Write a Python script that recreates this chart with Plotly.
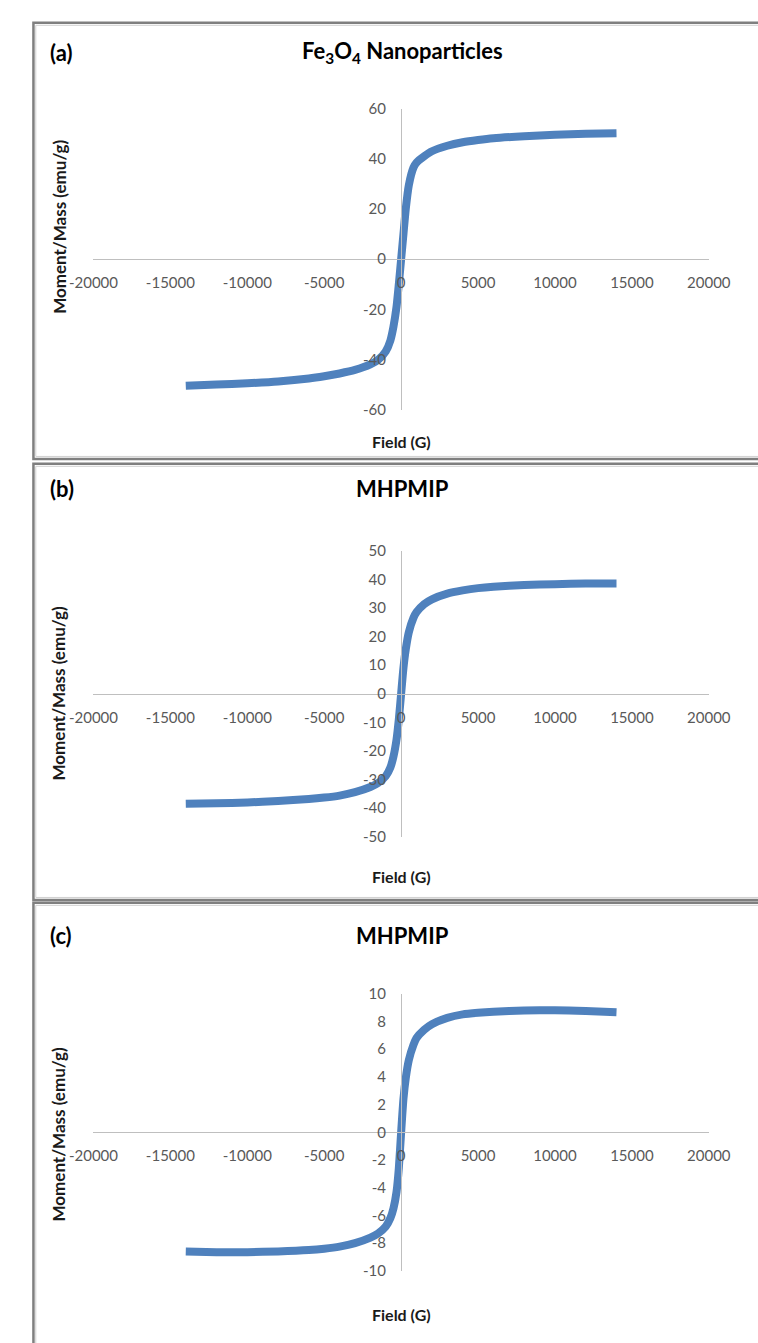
import plotly.graph_objects as go

W, H = 758, 1343

# ---- data ----
field = [-14000, -12000, -10000, -8000, -6000, -5000, -4000, -3000, -2000, -1500,
         -1000, -700, -500, -300, -150, 0, 150, 300, 500, 800, 1000, 1500, 2000,
         3000, 4000, 5000, 6000, 8000, 10000, 12000, 14000]

moment_a = [-50.5, -50.0, -49.5, -48.8, -47.6, -46.7, -45.6, -44.2, -42.0, -40.2,
            -36.8, -32.5, -27.0, -19.0, -10.0, 0.0, 10.0, 20.0, 29.5, 36.5, 38.5,
            41.0, 43.0, 45.2, 46.6, 47.5, 48.2, 49.0, 49.6, 50.0, 50.2]

moment_b = [-38.5, -38.3, -38.0, -37.5, -36.8, -36.3, -35.6, -34.4, -32.6, -31.2,
            -28.8, -25.8, -22.0, -16.0, -9.0, 0.0, 9.0, 15.5, 21.5, 26.5, 28.5,
            31.3, 33.0, 35.0, 36.1, 36.9, 37.4, 38.0, 38.3, 38.5, 38.5]

moment_c = [-8.6, -8.65, -8.65, -8.6, -8.5, -8.4, -8.25, -8.0, -7.6, -7.3,
            -6.8, -6.2, -5.5, -4.3, -2.6, 0.0, 2.4, 3.9, 5.2, 6.3, 6.8,
            7.4, 7.8, 8.25, 8.5, 8.62, 8.7, 8.78, 8.8, 8.75, 8.65]

panel_labels = ["(a)", "(b)", "(c)"]
panel_titles = ["Fe<sub>3</sub>O<sub>4</sub> Nanoparticles", "MHPMIP", "MHPMIP"]
x_ticks = [-20000, -15000, -10000, -5000, 0, 5000, 10000, 15000, 20000]
y_ticks = [[-60, -40, -20, 0, 20, 40, 60],
           [-50, -40, -30, -20, -10, 0, 10, 20, 30, 40, 50],
           [-10, -8, -6, -4, -2, 0, 2, 4, 6, 8, 10]]
x_title = "Field (G)"
y_title = "Moment/Mass (emu/g)"

# ---- layout geometry (pixels) ----
def fx(px):
    return px / W

def fy(py):
    return 1 - py / H

x_dom = [fx(73), fx(729)]
plot_top = [100, 548, 997]
plot_bot = [405, 838, 1278]
title_y = [43, 485, 938]
xtitle_y = [437, 878, 1322]
ytitle_y = [220, 693, 1140]
boxes = [(13, 455), (460, 902), (905, 1360)]

font_fam = "Lato, 'Open Sans', Arial, sans-serif"
line_col = "#4F81BD"
tick_col = "#595959"
axis_col = "#BFBFBF"

fig = go.Figure()
moments = [moment_a, moment_b, moment_c]
annotations = []
shapes = []


def open_box(xl, xr, yt, yb):
    # top, left and bottom edges only (the right edge runs off the page)
    return (f"M {fx(xr)} {fy(yt)} L {fx(xl)} {fy(yt)} "
            f"L {fx(xl)} {fy(yb)} L {fx(xr)} {fy(yb)}")


x_range = [x_ticks[0], x_ticks[-1]]
for i in range(3):
    sfx = "" if i == 0 else str(i + 1)
    fig.add_trace(go.Scatter(
        x=field, y=moments[i], mode="lines",
        line=dict(color=line_col, width=8, shape="spline", smoothing=0.6),
        xaxis="x" + sfx, yaxis="y" + sfx, showlegend=False, hoverinfo="skip"))

    y_dom = [fy(plot_bot[i]), fy(plot_top[i])]
    yr = [y_ticks[i][0], y_ticks[i][-1]]
    zero_pos = y_dom[0] + (0 - yr[0]) / (yr[1] - yr[0]) * (y_dom[1] - y_dom[0])
    xzero_pos = x_dom[0] + (0 - x_range[0]) / (x_range[1] - x_range[0]) * (x_dom[1] - x_dom[0])

    fig.layout["xaxis" + sfx] = dict(
        domain=x_dom, range=x_range,
        tickmode="array", tickvals=x_ticks, ticktext=[str(v) for v in x_ticks],
        anchor="free", position=zero_pos,
        showline=True, linecolor=axis_col, linewidth=1.3,
        showgrid=False, zeroline=False, ticks="", ticklabelstandoff=10,
        tickfont=dict(family=font_fam, size=15, color=tick_col),
        fixedrange=True)
    fig.layout["yaxis" + sfx] = dict(
        domain=y_dom, range=yr,
        tickmode="array", tickvals=y_ticks[i], ticktext=[str(v) for v in y_ticks[i]],
        anchor="free", position=xzero_pos,
        showline=True, linecolor=axis_col, linewidth=1.3,
        showgrid=False, zeroline=False, ticks="", ticklabelstandoff=12,
        tickfont=dict(family=font_fam, size=15, color=tick_col),
        fixedrange=True)

    annotations += [
        dict(text="<b>" + panel_labels[i] + "</b>", x=fx(24), y=fy(title_y[i]),
             xref="paper", yref="paper", xanchor="left", yanchor="middle",
             showarrow=False, font=dict(family=font_fam, size=22, color="#000000")),
        dict(text="<b>" + panel_titles[i] + "</b>", x=fx(402), y=fy(title_y[i]),
             xref="paper", yref="paper", xanchor="center", yanchor="middle",
             showarrow=False, font=dict(family=font_fam, size=22, color="#000000")),
        dict(text="<b>" + x_title + "</b>", x=fx(401), y=fy(xtitle_y[i]),
             xref="paper", yref="paper", xanchor="center", yanchor="middle",
             showarrow=False, font=dict(family=font_fam, size=16, color="#1a1a1a")),
        dict(text="<b>" + y_title + "</b>", x=fx(36), y=fy(ytitle_y[i]),
             xref="paper", yref="paper", xanchor="center", yanchor="middle",
             textangle=-90, showarrow=False,
             font=dict(family=font_fam, size=17, color="#1a1a1a")),
    ]
    b0, b1 = boxes[i]
    shapes.append(dict(type="path", xref="paper", yref="paper",
                       path=open_box(9, 800, b0, b1),
                       line=dict(color="#7F7F7F", width=2.5), layer="below"))
    shapes.append(dict(type="path", xref="paper", yref="paper",
                       path=open_box(11.5, 800, b0 + 2.5, b1 - 2.5),
                       line=dict(color="#D0D0D0", width=1), layer="below"))

fig.update_layout(
    width=W, height=H,
    margin=dict(l=0, r=0, t=0, b=0),
    paper_bgcolor="white", plot_bgcolor="rgba(0,0,0,0)",
    annotations=annotations, shapes=shapes, showlegend=False)

fig.write_html("out.html", config={"displayModeBar": False},
               post_script="document.body.style.margin='0';"
                           "document.body.style.overflow='hidden';")
